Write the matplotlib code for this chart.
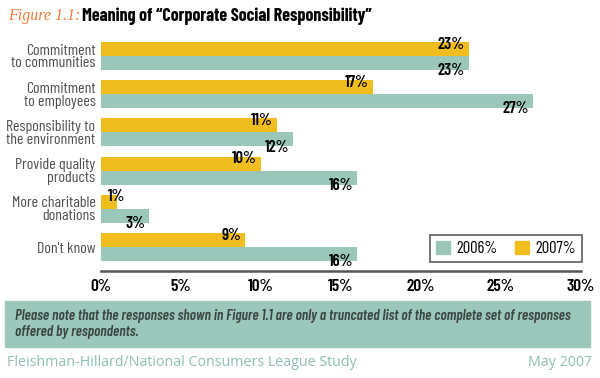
import matplotlib.pyplot as plt
from matplotlib.patches import Rectangle, Patch

#------------------------------------
# Data
#------------------------------------

categories = ["Commitment\nto communities", "Commitment\nto employees",
              "Responsibility to\nthe environment", "Provide quality\nproducts",
              "More charitable\ndonations", "Don't know"]
vals_2006 = [23, 27, 12, 16, 3, 16]
vals_2007 = [23, 17, 11, 10, 1, 9]
xticks = [0, 5, 10, 15, 20, 25, 30]

c_2006 = "#9bc7bb"
c_2007 = "#efbd1d"

plt.rcParams['font.family'] = ["Barlow Condensed", "DejaVu Sans"]

#------------------------------------
# Figure
#------------------------------------

fig = plt.figure(figsize=(6, 3.78), dpi=100)
fig.patch.set_facecolor("white")
ax = fig.add_axes([101/600, 1-271/378, 480/600, 241/378])

h = 14/38.2
ypos = list(range(len(categories)))
ax.barh([y - h/2 for y in ypos], vals_2007, height=h, color=c_2007)
ax.barh([y + h/2 for y in ypos], vals_2006, height=h, color=c_2006)

for y, v in zip(ypos, vals_2007):
    ax.text(max(v - 0.25, 1.5), y - h*0.85, f"{v}%", ha="right", va="center",
            fontsize=12, fontweight=600, color="black")
for y, v in zip(ypos, vals_2006):
    ax.text(max(v - 0.25, 1.5), y + h*1.05, f"{v}%", ha="right", va="center",
            fontsize=12, fontweight=600, color="black")

ax.set_xlim(0, 30)
ax.set_ylim(5.628, -0.681)
ax.set_xticks(xticks)
ax.set_xticklabels([f"{t}%" for t in xticks], fontsize=12.5, fontweight=600)
ax.set_yticks(ypos)
ax.set_yticklabels(categories, fontsize=11.5, color="#505050", linespacing=0.9)
ax.tick_params(axis="both", length=0)
ax.tick_params(axis="x", pad=6)
ax.tick_params(axis="y", pad=4)
for s in ["top", "right", "left"]:
    ax.spines[s].set_visible(False)
ax.spines["bottom"].set_color("#555555")
ax.spines["bottom"].set_linewidth(1.8)

handles = [Patch(color=c_2006, label="2006%"), Patch(color=c_2007, label="2007%")]
leg = ax.legend(handles=handles, ncol=2, loc="lower right",
                bbox_to_anchor=(582/600, 1-262/378), bbox_transform=fig.transFigure,
                frameon=True, fancybox=False, fontsize=12, handlelength=0.85,
                handleheight=0.85, handletextpad=0.4, columnspacing=1.0,
                borderpad=0.35, borderaxespad=0)
leg.get_frame().set_edgecolor("#333333")
leg.get_frame().set_linewidth(1.2)

# title
fig.text(8/600, 1-16/378, "Figure 1.1:", family="Liberation Serif", style="italic",
         fontsize=11.5, color="#f07a3a", va="center")
fig.text(82/600, 1-16/378, "Meaning of \u201cCorporate Social Responsibility\u201d",
         fontsize=13, fontweight="bold", color="black", va="center")

# note box
fig.patches.append(Rectangle((5/600, 1-347/378), 585/600, 46/378,
                             transform=fig.transFigure, color="#9cc7bb", zorder=0))
fig.text(15/600, 1-316/378,
         "Please note that the responses shown in Figure 1.1 are only a truncated list of the complete set of responses",
         fontsize=10.8, style="italic", fontweight=600, color="#3b4744", va="center")
fig.text(15/600, 1-332/378, "offered by respondents.",
         fontsize=10.8, style="italic", fontweight=600, color="#3b4744", va="center")

# footer
fig.text(7/600, 1-362/378, "Fleishman-Hillard/National Consumers League Study",
         family="Open Sans", fontsize=10.3, color="#8fbfb3", va="center")
fig.text(592/600, 1-362/378, "May 2007", family="Open Sans", fontsize=10.3,
         color="#8fbfb3", va="center", ha="right")

fig.savefig("out.png", dpi=100)
